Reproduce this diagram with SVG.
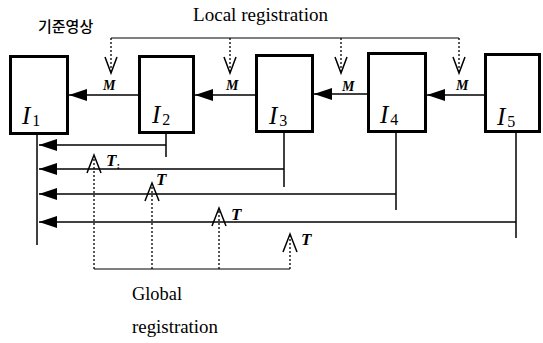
<svg xmlns="http://www.w3.org/2000/svg" width="543" height="343" viewBox="0 0 543 343">
<style>
.box{fill:#fff;stroke:#000;stroke-width:3}
.lbl{font-family:"Liberation Serif",serif;font-style:italic;font-size:25px;fill:#000}
.sub{font-style:normal;font-size:16px}
.ln{fill:none;stroke:#000;stroke-width:1.5}
.dot{fill:none;stroke:#000;stroke-width:1.3;stroke-dasharray:2 2}
.thin{fill:none;stroke:#000;stroke-width:1.2}
.open{fill:none;stroke:#000;stroke-width:1.5}
.m{font-family:"Liberation Serif",serif;font-style:italic;font-weight:bold;font-size:14px;fill:#000}
.t{font-family:"Liberation Serif",serif;font-style:italic;font-weight:bold;font-size:17px;fill:#000}
.txt{font-family:"Liberation Serif",serif;font-size:18.5px;fill:#000}
.kr{font-family:"Noto Sans CJK KR",sans-serif;font-size:15px;font-weight:500;fill:#000}
</style>
<defs>
<marker id="fa" viewBox="0 0 18 12" refX="18" refY="6" markerWidth="18" markerHeight="12" markerUnits="userSpaceOnUse" orient="auto">
<path d="M0,0 L18,6 L0,12 Z" fill="#000"/>
</marker>
</defs>

<g id="labels">
<text class="kr" x="38" y="32">기준영상</text>
<text class="txt" x="193" y="21" textLength="135" lengthAdjust="spacingAndGlyphs">Local registration</text>
<text class="txt" x="132" y="300" textLength="50" lengthAdjust="spacingAndGlyphs">Global</text>
<text class="txt" x="132" y="333" textLength="86" lengthAdjust="spacingAndGlyphs">registration</text>
</g>

<g id="node-I1">
<rect class="box" x="10.5" y="56.5" width="57" height="77"/>
<text class="lbl" x="22" y="124">I<tspan class="sub" dx="2" dy="2">1</tspan></text>
</g>
<g id="node-I2">
<rect class="box" x="139.5" y="56.5" width="54" height="76"/>
<text class="lbl" x="152" y="123">I<tspan class="sub" dx="2" dy="2">2</tspan></text>
</g>
<g id="node-I3">
<rect class="box" x="256.5" y="55.5" width="56" height="76"/>
<text class="lbl" x="269" y="124">I<tspan class="sub" dx="2" dy="2">3</tspan></text>
</g>
<g id="node-I4">
<rect class="box" x="368.5" y="53.5" width="57" height="78"/>
<text class="lbl" x="380" y="123">I<tspan class="sub" dx="2" dy="2">4</tspan></text>
</g>
<g id="node-I5">
<rect class="box" x="485.5" y="54.5" width="54" height="77"/>
<text class="lbl" x="497" y="125">I<tspan class="sub" dx="2" dy="2">5</tspan></text>
</g>

<g id="connectors">
<line class="ln" x1="138" y1="95" x2="69" y2="95" marker-end="url(#fa)"/>
<line class="ln" x1="255" y1="95" x2="195" y2="95" marker-end="url(#fa)"/>
<line class="ln" x1="367" y1="94" x2="314" y2="94" marker-end="url(#fa)"/>
<line class="ln" x1="484" y1="95" x2="427" y2="95" marker-end="url(#fa)"/>

<line class="thin" x1="111" y1="38" x2="459" y2="38"/>
<line class="dot" x1="111" y1="38" x2="111" y2="72"/>
<line class="dot" x1="230" y1="38" x2="230" y2="72"/>
<line class="dot" x1="341" y1="38" x2="341" y2="72"/>
<line class="dot" x1="459" y1="38" x2="459" y2="72"/>
<path class="open" d="M105,57 L111,73 L117,57"/>
<path class="open" d="M224,57 L230,73 L236,57"/>
<path class="open" d="M335,57 L341,73 L347,57"/>
<path class="open" d="M453,57 L459,73 L465,57"/>
<text class="m" x="103" y="90">M</text>
<text class="m" x="226" y="90">M</text>
<text class="m" x="342" y="91">M</text>
<text class="m" x="456" y="90">M</text>

<line class="ln" x1="37" y1="135" x2="37" y2="245"/>
<line class="ln" x1="166" y1="134" x2="166" y2="157"/>
<line class="ln" x1="166" y1="145" x2="39" y2="145" marker-end="url(#fa)"/>
<line class="ln" x1="284" y1="133" x2="284" y2="187"/>
<line class="ln" x1="284" y1="169" x2="39" y2="169" marker-end="url(#fa)"/>
<line class="ln" x1="396" y1="133" x2="396" y2="210"/>
<line class="ln" x1="396" y1="194" x2="39" y2="194" marker-end="url(#fa)"/>
<line class="ln" x1="516" y1="133" x2="516" y2="238"/>
<line class="ln" x1="516" y1="222" x2="39" y2="222" marker-end="url(#fa)"/>

<line class="thin" x1="94" y1="269" x2="290" y2="269"/>
<line class="dot" x1="94" y1="269" x2="94" y2="156"/>
<line class="dot" x1="152" y1="269" x2="152" y2="184"/>
<line class="dot" x1="219" y1="269" x2="219" y2="209"/>
<line class="dot" x1="290" y1="269" x2="290" y2="235"/>
<path class="open" d="M87,173 L94,155 L101,173"/>
<path class="open" d="M145,201 L152,183 L159,201"/>
<path class="open" d="M212,226 L219,208 L226,226"/>
<path class="open" d="M283,252 L290,234 L297,252"/>
<text class="t" x="106" y="166">T<tspan font-size="11" font-style="normal" dy="3">:</tspan></text>
<text class="t" x="156" y="185">T</text>
<text class="t" x="231" y="220">T</text>
<text class="t" x="301" y="245">T</text>
</g>
</svg>
